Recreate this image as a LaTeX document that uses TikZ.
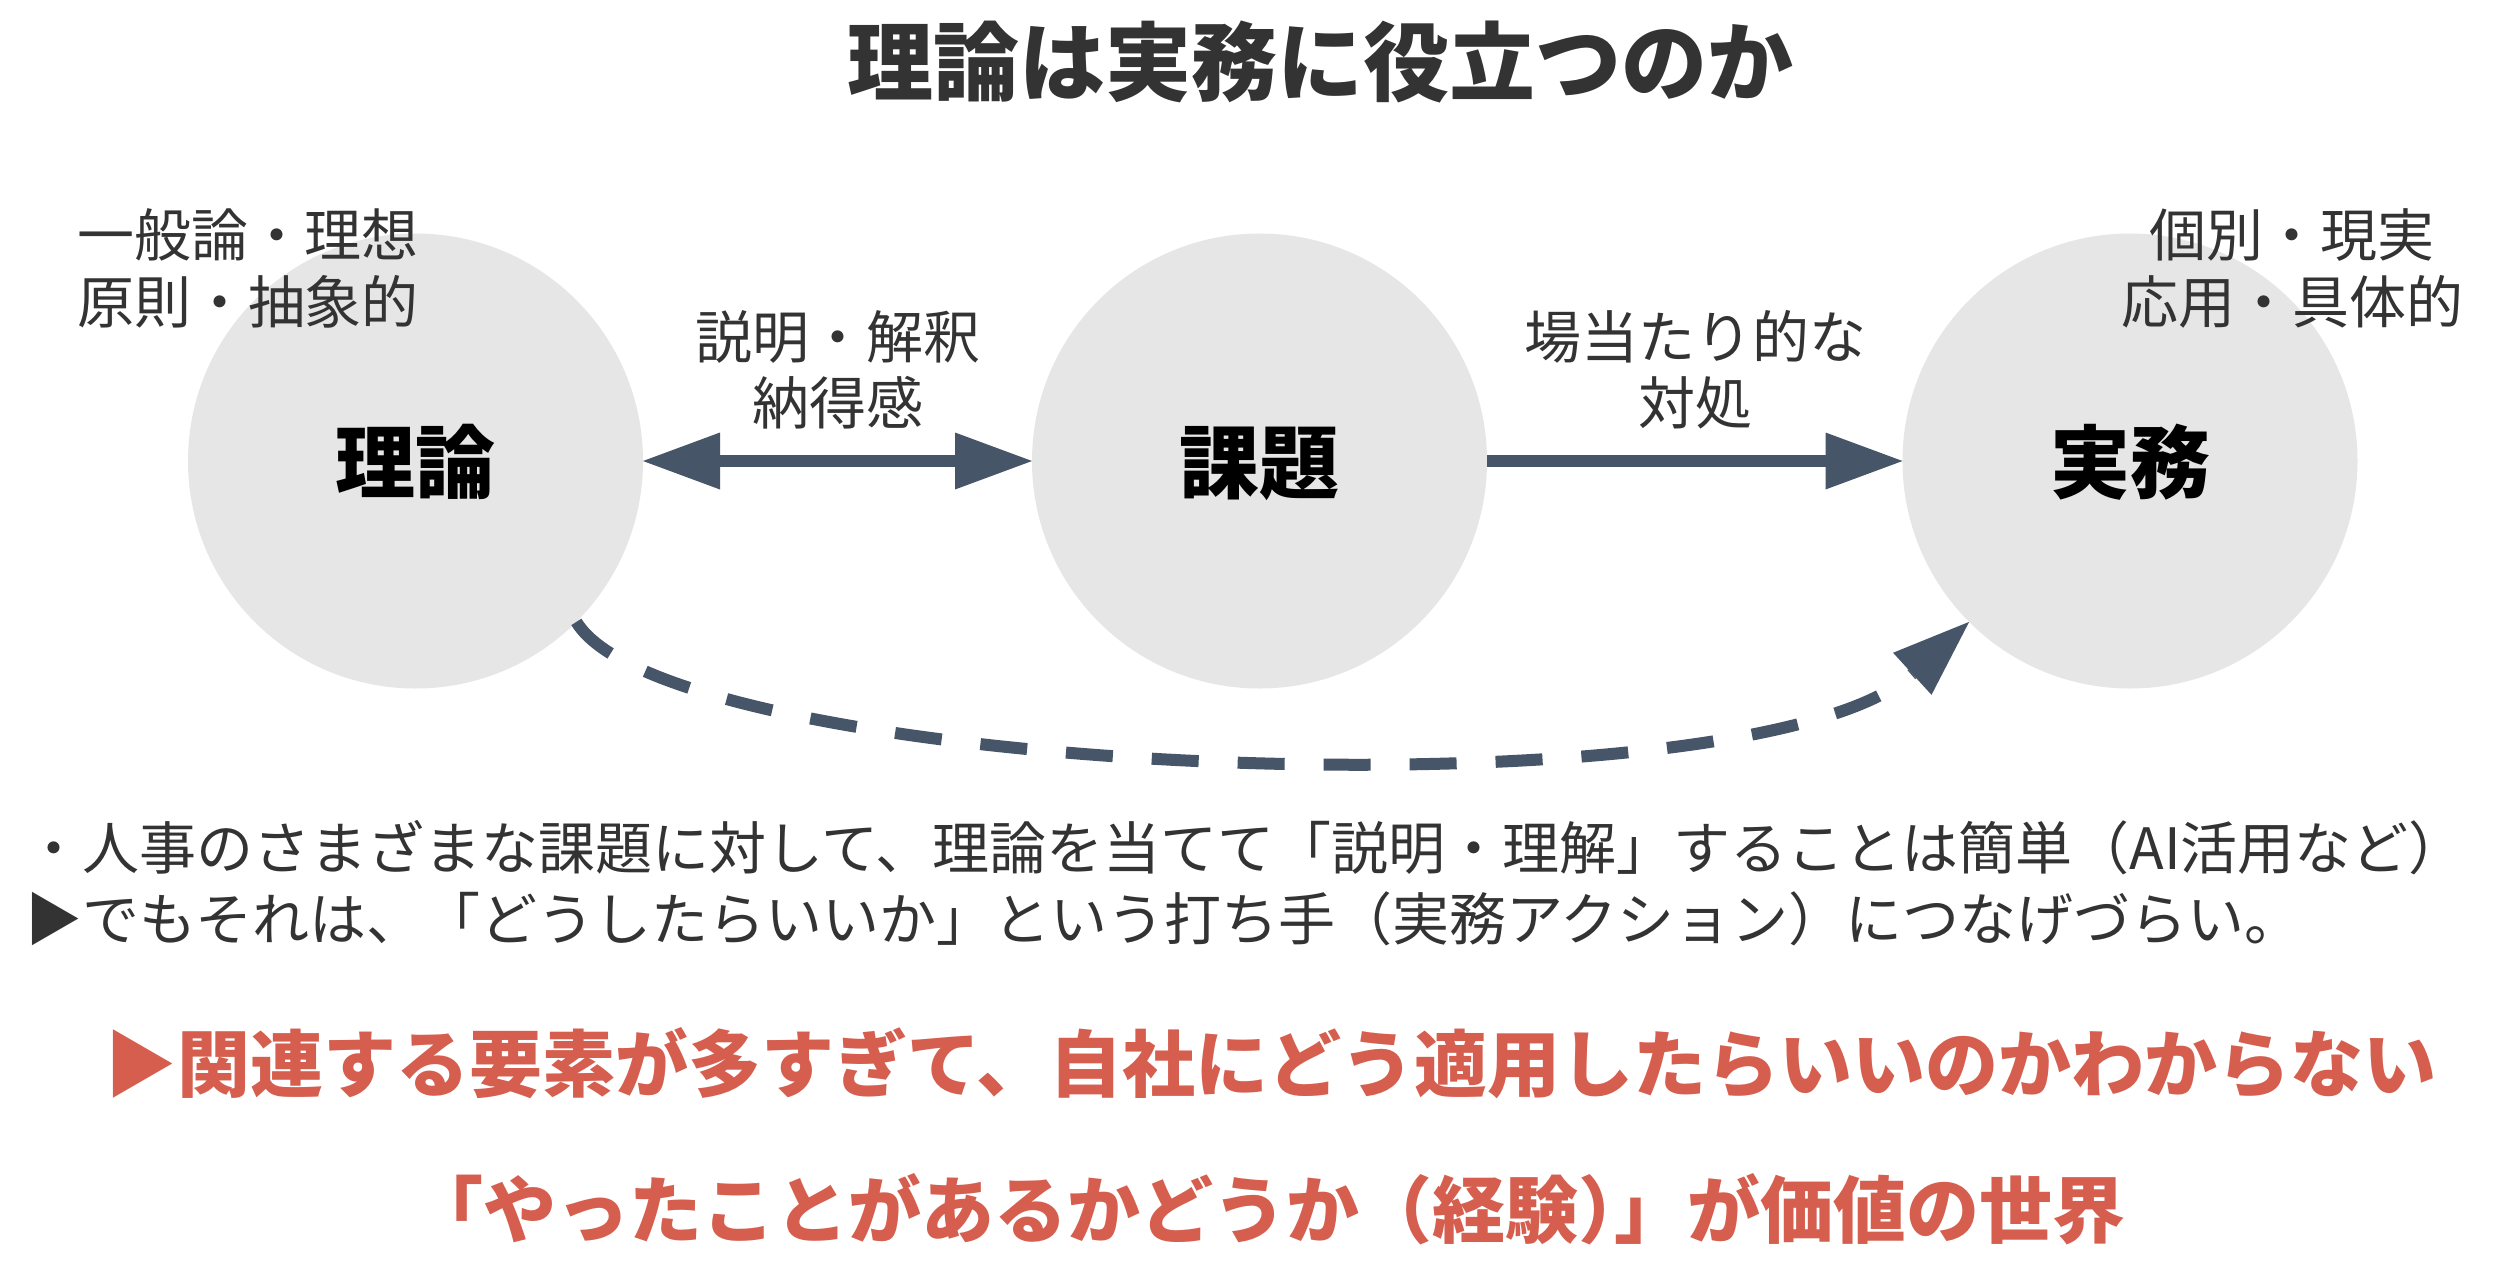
\documentclass[tikz,border=0pt]{standalone}
\usepackage{fontspec}
\setmainfont{Noto Sans CJK JP}
\usetikzlibrary{arrows.meta}
\definecolor{txt}{HTML}{333333}
\definecolor{slate}{HTML}{475569}
\definecolor{circ}{HTML}{E6E6E6}
\definecolor{accent}{HTML}{D55E4E}
\begin{document}
\begin{tikzpicture}[x=1pt,y=-1pt,
  bubble/.style={circle, fill=circ, minimum size=455pt, inner sep=0pt, outer sep=0pt},
  lbl/.style={anchor=base, inner sep=0pt, text=txt, font=\fontsize{57}{67}\selectfont},
  big/.style={anchor=base, inner sep=0pt, text=black, font=\fontsize{80}{90}\selectfont\bfseries},
  titlefont/.style={anchor=base west, inner sep=0pt, text=txt, font=\fontsize{86}{100}\selectfont\bfseries},
  body/.style={anchor=base west, inner sep=0pt, text=txt, font=\fontsize{57}{70}\selectfont},
  accentline/.style={anchor=base west, inner sep=0pt, text=accent, font=\fontsize{73}{85}\selectfont\bfseries},
  conn/.style={draw=slate, line width=12pt},
  fwd/.style={-{Triangle[length=77pt,width=57pt,line width=0pt,fill=slate]}},
  both/.style={{Triangle[length=77pt,width=57pt,line width=0pt,fill=slate]}-{Triangle[length=77pt,width=57pt,line width=0pt,fill=slate]}}
]
\fill[white] (0,0) rectangle (2504,1288);
\useasboundingbox (0,0) rectangle (2504,1288);

\node[titlefont] (title) at (847,94) {理論は実務に役立つのか};

\node[bubble] (A) at (415.5,461) {};
\node[bubble] (B) at (1259.5,461) {};
\node[bubble] (C) at (2130,461) {};

\node[big] (tA) at (415.5,492) {理論};
\node[big] (tB) at (1259.5,492) {課題};
\node[big] (tC) at (2130,492) {実務};

\node[lbl] (gA1) at (248,256) {一般論・理想};
\node[lbl] (gA2) at (248,323) {原則・抽象的};
\node[lbl] (gC1) at (2292,256) {個別・現実};
\node[lbl] (gC2) at (2292,323) {応用・具体的};
\node[lbl] (e1) at (838,358) {説明・解釈};
\node[lbl] (e2) at (838,424) {納得感};
\node[lbl] (f1) at (1695,358) {場当たり的な};
\node[lbl] (f2) at (1695,424) {対処};

\draw[conn, both] (A) -- (B);
\draw[conn, fwd] (B) -- (C);
\draw[conn, fwd, dash pattern=on 47pt off 39pt] (A.-45) .. controls (670,778) and (1750,822) .. (C.-135);

\node[body] (p1) at (25,869) {・人事のさまざまな課題に対して、理論を当てて「説明・理解」することは簡単（AI活用など）};
\node[body] (p2) at (25,940) {▶でもそれは、「どうしたらいいか」という打ち手（実務アクション）につなげづらい。};
\node[accentline] (r1) at (104,1091) {▶関連する要素が多すぎて、自社にどう適用したらいいのかわからない};
\node[accentline] (r2) at (410,1237) {「やったことがあるかどうか（経験）\kern-.5em」が価値の世界};
\end{tikzpicture}
\end{document}
